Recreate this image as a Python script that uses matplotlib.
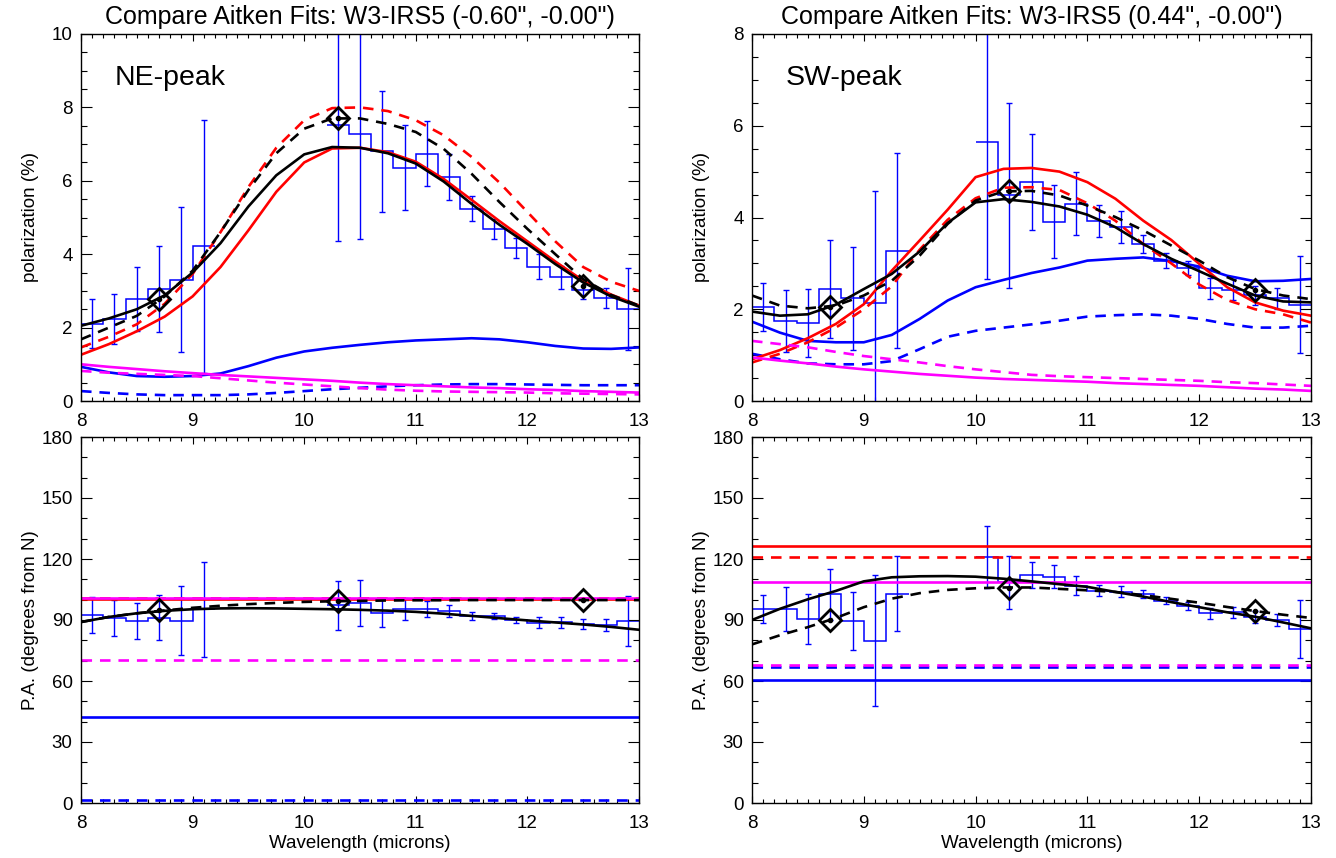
import numpy as np
import matplotlib
matplotlib.use('Agg')
import matplotlib.pyplot as plt
from matplotlib.ticker import MultipleLocator

plt.rcParams['font.family'] = ['Liberation Sans', 'DejaVu Sans']

# data bins (microns), NaN where no data
wl = [8.1, 8.3, 8.5, 8.7, 8.9, 9.1, 9.3, 9.5, 9.7, 9.9, 10.1, 10.3, 10.5,
      10.7, 10.9, 11.1, 11.3, 11.5, 11.7, 11.9, 12.1, 12.3, 12.5, 12.7, 12.9]
nan = np.nan

ne_pol = [2.11, 2.23, 2.79, 3.04, 3.31, 4.21, nan, nan, nan, nan, nan, 7.53, 7.27,
          6.81, 6.36, 6.74, 6.10, 5.24, 4.69, 4.17, 3.66, 3.37, 3.02, 2.80, 2.50]
ne_pol_err = [0.67, 0.69, 0.87, 1.17, 1.98, 3.45, nan, nan, nan, nan, nan, 3.18, 2.85,
              1.65, 1.16, 0.89, 0.63, 0.34, 0.27, 0.26, 0.34, 0.31, 0.24, 0.27, 1.12]
sw_pol = [2.05, 1.75, 1.70, 2.44, 2.24, 2.13, 3.28, nan, nan, nan, 5.65, 4.48, 4.77,
          3.91, 4.30, 3.92, 3.80, 3.42, 3.06, 2.90, 2.46, 2.43, 2.30, 2.24, 2.10]
sw_pol_err = [0.52, 0.68, 0.75, 1.07, 1.12, 2.45, 2.12, nan, nan, nan, 2.99, 2.02, 1.04,
              0.80, 0.69, 0.35, 0.35, 0.19, 0.16, 0.15, 0.23, 0.23, 0.20, 0.23, 1.05]
ne_pa = [92.5, 90.8, 89.5, 91.2, 89.7, 95.3, nan, nan, nan, nan, nan, 97.2, 98.4,
         93.6, 95.3, 95.4, 94.6, 92.0, 92.0, 90.0, 88.7, 88.9, 88.0, 87.5, 89.5]
ne_pa_err = [9.0, 8.85, 8.9, 10.9, 17.0, 23.4, nan, nan, nan, nan, nan, 12.0, 11.2,
             7.0, 5.3, 3.9, 3.0, 1.9, 1.6, 1.7, 2.6, 2.6, 2.3, 2.8, 12.5]
sw_pa = [95.4, 95.4, 90.5, 102.6, 89.5, 79.7, 103.0, nan, nan, nan, 121.0, 108.5, 112.1,
         111.3, 106.9, 104.4, 104.0, 102.8, 99.5, 96.9, 93.3, 93.8, 91.3, 90.0, 85.6]
sw_pa_err = [7.1, 10.9, 12.3, 12.4, 14.1, 32.2, 18.3, nan, nan, nan, 15.2, 13.0, 6.2,
             5.7, 4.6, 2.6, 2.9, 2.1, 1.6, 1.8, 2.7, 2.6, 2.9, 3.0, 14.2]

# diamonds (Aitken filter points)
dwl = [8.7, 10.3, 12.5]
ne_pol_d = [2.78, 7.72, 3.14]
sw_pol_d = [2.05, 4.58, 2.42]
ne_pa_d = [94.9, 99.5, 99.8]
sw_pa_d = [90.0, 105.6, 94.4]

# model curves
mwl = [8.0, 8.25, 8.5, 8.75, 9.0, 9.25, 9.5, 9.75, 10.0, 10.25, 10.5,
       10.75, 11.0, 11.25, 11.5, 11.75, 12.0, 12.25, 12.5, 12.75, 13.0]

ne_black = [2.05, 2.25, 2.5, 2.88, 3.5, 4.3, 5.3, 6.15, 6.72, 6.92, 6.9,
            6.75, 6.47, 5.98, 5.37, 4.8, 4.28, 3.73, 3.23, 2.85, 2.57]
ne_black_d = [1.68, 2.0, 2.32, 2.85, 3.55, 4.6, 5.75, 6.75, 7.42, 7.7, 7.7,
              7.55, 7.33, 6.87, 6.19, 5.42, 4.69, 4.0, 3.32, 2.89, 2.6]
ne_red = [1.26, 1.55, 1.9, 2.3, 2.85, 3.65, 4.65, 5.7, 6.5, 6.88, 6.9,
          6.78, 6.52, 6.05, 5.48, 4.9, 4.35, 3.8, 3.28, 2.9, 2.6]
ne_red_d = [1.46, 1.75, 2.09, 2.65, 3.46, 4.6, 5.83, 6.9, 7.65, 7.98, 8.0,
            7.9, 7.65, 7.24, 6.65, 5.95, 5.15, 4.35, 3.65, 3.25, 3.0]
ne_blue = [0.93, 0.78, 0.68, 0.66, 0.68, 0.75, 0.95, 1.18, 1.35, 1.45, 1.53,
           1.6, 1.65, 1.68, 1.71, 1.68, 1.6, 1.5, 1.43, 1.42, 1.46]
ne_blue_d = [0.27, 0.22, 0.18, 0.16, 0.16, 0.16, 0.18, 0.22, 0.27, 0.32, 0.36,
             0.4, 0.43, 0.45, 0.46, 0.46, 0.45, 0.44, 0.43, 0.43, 0.43]
ne_mag = [1.0, 0.93, 0.87, 0.81, 0.76, 0.71, 0.67, 0.63, 0.59, 0.55, 0.5,
          0.46, 0.43, 0.4, 0.37, 0.35, 0.32, 0.3, 0.27, 0.25, 0.23]
ne_mag_d = [0.82, 0.77, 0.74, 0.71, 0.68, 0.62, 0.56, 0.5, 0.45, 0.4, 0.35,
            0.31, 0.28, 0.26, 0.25, 0.24, 0.23, 0.21, 0.2, 0.19, 0.18]

sw_black = [1.95, 1.86, 1.89, 2.1, 2.44, 2.77, 3.26, 3.88, 4.33, 4.4, 4.34,
            4.24, 4.06, 3.79, 3.42, 3.1, 2.83, 2.56, 2.3, 2.17, 2.15]
sw_black_d = [2.3, 2.08, 2.02, 2.08, 2.3, 2.62, 3.17, 3.86, 4.37, 4.57, 4.58,
              4.48, 4.26, 4.01, 3.72, 3.39, 3.06, 2.7, 2.44, 2.3, 2.22]
sw_red = [0.91, 1.11, 1.37, 1.68, 2.11, 2.84, 3.5, 4.17, 4.88, 5.06, 5.08,
          5.0, 4.77, 4.41, 3.93, 3.51, 2.99, 2.48, 2.15, 1.97, 1.86]
sw_red_d = [0.84, 1.03, 1.28, 1.6, 2.0, 2.5, 3.3, 3.95, 4.42, 4.65, 4.66,
            4.6, 4.31, 3.93, 3.42, 3.0, 2.54, 2.2, 2.0, 1.89, 1.71]
sw_blue = [1.73, 1.49, 1.31, 1.28, 1.28, 1.44, 1.79, 2.19, 2.48, 2.64, 2.79,
           2.91, 3.06, 3.10, 3.13, 3.05, 2.93, 2.73, 2.61, 2.62, 2.66]
sw_blue_d = [1.03, 0.91, 0.82, 0.8, 0.8, 0.87, 1.13, 1.4, 1.53, 1.6, 1.67,
             1.75, 1.84, 1.87, 1.89, 1.86, 1.79, 1.68, 1.6, 1.6, 1.64]
sw_mag = [0.95, 0.88, 0.82, 0.75, 0.69, 0.64, 0.59, 0.55, 0.51, 0.48, 0.46,
          0.44, 0.42, 0.39, 0.37, 0.35, 0.33, 0.30, 0.27, 0.25, 0.22]
sw_mag_d = [1.31, 1.24, 1.17, 1.07, 0.98, 0.91, 0.84, 0.76, 0.69, 0.63, 0.57,
            0.54, 0.52, 0.5, 0.48, 0.46, 0.44, 0.41, 0.39, 0.36, 0.33]

ne_pa_black = [89, 91.5, 93.3, 94.5, 95.3, 95.7, 95.8, 95.7, 95.5, 95.3, 95.0,
               94.6, 94.0, 93.1, 92.0, 90.9, 89.8, 88.8, 87.8, 86.6, 85.2]
ne_pa_black_d = [89, 91.5, 93.3, 94.7, 96.0, 97.0, 97.8, 98.4, 98.9, 99.2, 99.4,
                 99.6, 99.7, 99.7, 99.8, 99.8, 99.8, 99.8, 99.8, 99.8, 99.8]
sw_pa_black = [90, 95.5, 100.2, 104.3, 109.0, 111.0, 111.5, 111.6, 111.3, 110.3, 109.0,
               107.6, 106.3, 103.8, 101.5, 98.8, 96.3, 93.8, 91.6, 88.8, 85.9]
sw_pa_black_d = [78, 82.5, 86.5, 91, 96.3, 100.5, 103.2, 104.8, 105.6, 106.0, 106.0,
                 105.3, 104.6, 103.8, 102.2, 100.4, 98.5, 96.4, 94.4, 92.6, 91.0]

# constant P.A. models: (red, red dashed, magenta, magenta dashed, blue, blue dashed)
ne_pa_const = [100.5, 100.8, 101.0, 70.3, 42.5, 1.5]
sw_pa_const = [126.6, 121.0, 108.9, 67.8, 60.5, 67.0]

DASH = (0, (4, 3))
LW = 1.9


def draw_data(ax, x, y, e):
    x = np.asarray(x); y = np.asarray(y); e = np.asarray(e)
    idx = np.flatnonzero(~np.isnan(y))
    runs = np.split(idx, np.flatnonzero(np.diff(idx) > 1) + 1)
    for r in runs:
        edges = np.append(x[r] - 0.1, x[r[-1]] + 0.1)
        ax.stairs(y[r], edges, color='blue', lw=1.1, baseline=None)
    ax.errorbar(x[idx], y[idx], yerr=e[idx], fmt='none', ecolor='blue',
                elinewidth=1.0, capsize=2.5, capthick=1.0)


def draw_diamonds(ax, x, y):
    ax.plot(x, y, 'D', mfc='none', mec='k', ms=11, mew=2, zorder=6)
    ax.plot(x, y, 'o', color='k', ms=3, zorder=6)


def style(ax, ymax, ymajor, yminor):
    ax.set_xlim(8, 13)
    ax.set_ylim(0, ymax)
    ax.xaxis.set_major_locator(MultipleLocator(1))
    ax.xaxis.set_minor_locator(MultipleLocator(0.1))
    ax.yaxis.set_major_locator(MultipleLocator(ymajor))
    ax.yaxis.set_minor_locator(MultipleLocator(yminor))
    ax.tick_params(which='both', direction='in', top=True, right=True,
                   labelsize=13.5, width=0.8)
    ax.tick_params(axis='x', which='both', pad=9)
    ax.tick_params(axis='y', which='both', pad=6)
    ax.tick_params(axis='x', which='major', length=5.3)
    ax.tick_params(axis='x', which='minor', length=2.7)
    ax.tick_params(axis='y', which='major', length=8)
    ax.tick_params(axis='y', which='minor', length=4)
    for s in ax.spines.values():
        s.set_linewidth(1.0)


fig = plt.figure(figsize=(13.36, 8.58), dpi=100)
W, H = 1336.0, 858.0
ax1 = fig.add_axes([81 / W, 1 - 401 / H, 558 / W, 367 / H])
ax2 = fig.add_axes([752 / W, 1 - 401 / H, 559 / W, 367 / H])
ax3 = fig.add_axes([81 / W, 1 - 803 / H, 558 / W, 366 / H])
ax4 = fig.add_axes([752 / W, 1 - 803 / H, 559 / W, 366 / H])

# polarization panels
for ax, pol, err, d, curves, title, tag, ymax in [
        (ax1, ne_pol, ne_pol_err, ne_pol_d,
         (ne_blue, ne_blue_d, ne_red, ne_red_d, ne_mag, ne_mag_d, ne_black, ne_black_d),
         'Compare Aitken Fits: W3-IRS5 (-0.60", -0.00")', 'NE-peak', 10),
        (ax2, sw_pol, sw_pol_err, sw_pol_d,
         (sw_blue, sw_blue_d, sw_red, sw_red_d, sw_mag, sw_mag_d, sw_black, sw_black_d),
         'Compare Aitken Fits: W3-IRS5 (0.44", -0.00")', 'SW-peak', 8)]:
    draw_data(ax, wl, pol, err)
    b, bd, r, rd, m, md, k, kd = curves
    ax.plot(mwl, bd, color='blue', lw=LW, ls=DASH)
    ax.plot(mwl, b, color='blue', lw=LW)
    ax.plot(mwl, rd, color='red', lw=LW, ls=DASH)
    ax.plot(mwl, r, color='red', lw=LW)
    ax.plot(mwl, md, color='magenta', lw=LW, ls=DASH)
    ax.plot(mwl, m, color='magenta', lw=LW)
    ax.plot(mwl, kd, color='black', lw=LW, ls=DASH)
    ax.plot(mwl, k, color='black', lw=LW)
    draw_diamonds(ax, dwl, d)
    style(ax, ymax, 2, 0.5)
    ax.set_title(title, fontsize=18, pad=7)
    ax.text(0.06, 0.88, tag, transform=ax.transAxes, fontsize=20.5, va='center')
    ax.set_ylabel('polarization (%)', fontsize=13.5)
    ax.yaxis.set_label_coords(-0.075, 0.5)

# position angle panels
for ax, pa, err, d, k, kd, c in [
        (ax3, ne_pa, ne_pa_err, ne_pa_d, ne_pa_black, ne_pa_black_d, ne_pa_const),
        (ax4, sw_pa, sw_pa_err, sw_pa_d, sw_pa_black, sw_pa_black_d, sw_pa_const)]:
    draw_data(ax, wl, pa, err)
    ax.axhline(c[5], color='blue', lw=LW, ls=DASH)
    ax.axhline(c[4], color='blue', lw=LW)
    ax.axhline(c[1], color='red', lw=LW, ls=DASH)
    ax.axhline(c[0], color='red', lw=LW)
    ax.axhline(c[3], color='magenta', lw=LW, ls=DASH)
    ax.axhline(c[2], color='magenta', lw=LW)
    ax.plot(mwl, kd, color='black', lw=LW, ls=DASH)
    ax.plot(mwl, k, color='black', lw=LW)
    draw_diamonds(ax, dwl, d)
    style(ax, 180, 30, 10)
    ax.set_ylabel('P.A. (degrees from N)', fontsize=13.5)
    ax.yaxis.set_label_coords(-0.075, 0.5)
    ax.set_xlabel('Wavelength (microns)', fontsize=13.5)
    ax.xaxis.set_label_coords(0.5, -0.088)

fig.savefig('out.png', dpi=100)
